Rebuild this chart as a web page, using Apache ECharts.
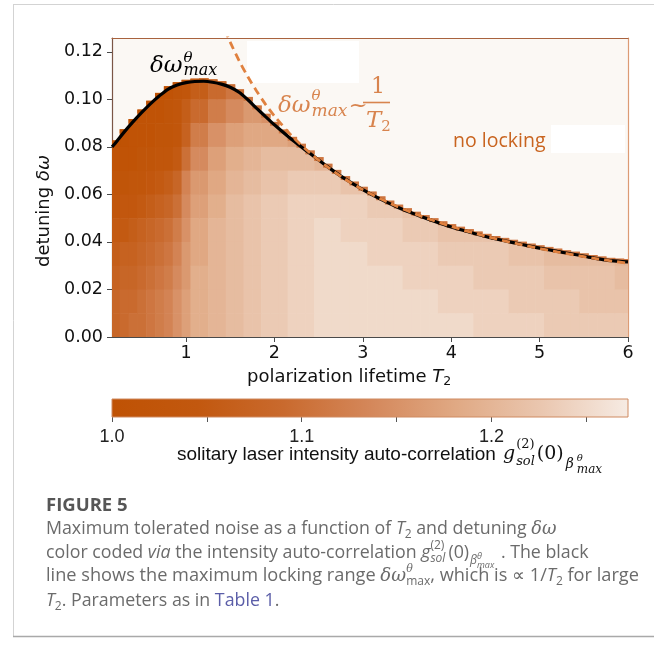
<!DOCTYPE html>
<html><head><meta charset="utf-8">
<script src="https://cdn.jsdelivr.net/npm/echarts@6/dist/echarts.min.js"></script>
<style>html,body{margin:0;padding:0;background:#fff}#c{width:654px;height:650px}</style>
</head><body><div id="c"></div>
<script>
// ---------- data ----------
const xTicks = [1, 2, 3, 4, 5, 6];
const yTicks = [0, 0.02, 0.04, 0.06, 0.08, 0.10, 0.12];
const cbTicks = [1.0, 1.05, 1.1, 1.15, 1.2, 1.25];
const cbLabels = [1.0, 1.1, 1.2];

// black curve: maximum locking range
const lineT2 = [0.163,0.2,0.3,0.4,0.5,0.6,0.7,0.8,0.9,1.0,1.1,1.2,1.3,1.4,1.5,1.6,1.7,1.8,1.9,2.0,2.2,2.4,2.6,2.8,3.0,3.2,3.4,3.6,3.8,4.0,4.2,4.4,4.6,4.8,5.0,5.2,5.4,5.6,5.8,6.0];
const lineDw = [0.0800,0.0815,0.0862,0.0905,0.0945,0.0982,0.1015,0.1043,0.1060,0.1070,0.1075,0.1076,0.1072,0.1064,0.1051,0.1030,0.0998,0.0962,0.0927,0.0893,0.0830,0.0773,0.0717,0.0665,0.0620,0.0580,0.0545,0.0515,0.0488,0.0463,0.0442,0.0422,0.0405,0.0389,0.0374,0.0360,0.0347,0.0333,0.0321,0.0316];

// orange dashed asymptote ~1/T2
const dashT2 = [1.44,1.5,1.6,1.7,1.8,1.9,2.0,2.2,2.4,2.6,2.8,3.0,3.3,3.6,4.0,4.4,4.8,5.2,5.6,6.0];
const dashDw = [0.1292,0.1241,0.1163,0.1095,0.1034,0.0979,0.0930,0.0845,0.0775,0.0716,0.0664,0.0620,0.0564,0.0517,0.0465,0.0423,0.0388,0.0358,0.0332,0.0310];

// heat map columns (centres) and the top of the locked region in each column
const colT2 = [0.2,0.3,0.4,0.5,0.6,0.7,0.8,0.9,1.0,1.1,1.2,1.3,1.4,1.5,1.6,1.7,1.8,1.9,2.0,2.1,2.2,2.3,2.4,2.5,2.6,2.7,2.8,2.9,3.0,3.1,3.2,3.3,3.4,3.5,3.6,3.7,3.8,3.9,4.0,4.1,4.2,4.3,4.4,4.5,4.6,4.7,4.8,4.9,5.0,5.1,5.2,5.3,5.4,5.5,5.6,5.7,5.8,5.9,6.0];
const colTop = [0.0827,0.0874,0.0917,0.0957,0.0994,0.1027,0.1055,0.1072,0.1082,0.1087,
                0.1088,0.1084,0.1076,0.1063,0.1042,0.1010,0.0974,0.0939,0.0905,0.0873,
                0.0842,0.0813,0.0785,0.0757,0.0729,0.0703,0.0677,0.0654,0.0632,0.0612,
                0.0592,0.0574,0.0557,0.0542,0.0527,0.0513,0.0500,0.0487,0.0475,0.0464,
                0.0454,0.0444,0.0434,0.0425,0.0417,0.0409,0.0401,0.0393,0.0386,0.0379,
                0.0372,0.0365,0.0359,0.0352,0.0345,0.0339,0.0333,0.0330,0.0328];

// g2 value grid: T2 bins (edges) x detuning rows (bottom of each 0.01 row), top row first
const gridEdgesT2 = [0.15,0.25,0.35,0.45,0.55,0.65,0.75,0.85,0.95,1.05,1.25,1.45,1.65,1.85,2.15,2.45,2.75,3.05,3.45,3.85,4.25,4.65,5.05,5.45,5.85,6.05];
const rowBottoms = [0.10,0.09,0.08,0.07,0.06,0.05,0.04,0.03,0.02,0.01,0.00];
const g2Rows = [
  [null,null,null,null,1.01,1.01,1.01,1.02,1.03,1.06,1.09,1.11,1.13],
  [null,null,1.01,1.01,1.01,1.01,1.02,1.03,1.06,1.09,1.12,1.14,1.16,1.15],
  [1.00,1.00,1.01,1.01,1.01,1.02,1.02,1.03,1.07,1.12,1.15,1.17,1.18,1.18,1.17],
  [1.01,1.01,1.01,1.02,1.02,1.03,1.03,1.05,1.10,1.14,1.17,1.19,1.20,1.21,1.21,1.20],
  [1.02,1.02,1.03,1.03,1.04,1.05,1.06,1.08,1.13,1.16,1.18,1.20,1.21,1.22,1.23,1.23,1.22,1.21],
  [1.03,1.04,1.04,1.05,1.06,1.07,1.08,1.10,1.14,1.17,1.19,1.21,1.22,1.23,1.24,1.24,1.24,1.23,1.22],
  [1.05,1.05,1.06,1.07,1.08,1.09,1.10,1.12,1.15,1.18,1.20,1.21,1.22,1.23,1.24,1.25,1.24,1.24,1.23,1.22,1.22,1.21],
  [1.06,1.07,1.07,1.08,1.09,1.10,1.11,1.13,1.16,1.18,1.20,1.21,1.22,1.23,1.24,1.25,1.25,1.24,1.24,1.23,1.23,1.22,1.21,1.21,1.20],
  [1.07,1.08,1.08,1.09,1.10,1.11,1.12,1.14,1.16,1.19,1.20,1.21,1.22,1.23,1.24,1.25,1.25,1.25,1.24,1.24,1.23,1.23,1.22,1.22,1.21],
  [1.08,1.09,1.09,1.10,1.11,1.12,1.13,1.15,1.17,1.19,1.20,1.21,1.22,1.23,1.24,1.25,1.25,1.25,1.25,1.24,1.24,1.23,1.23,1.22,1.22],
  [1.08,1.09,1.10,1.10,1.11,1.12,1.13,1.15,1.17,1.19,1.20,1.21,1.22,1.23,1.24,1.25,1.25,1.25,1.25,1.25,1.24,1.24,1.23,1.23,1.23]
];
// darker cells along the locking boundary, per T2 bin
const edgeG2 = [1.00,1.00,1.00,1.00,1.00,1.00,1.00,1.01,1.02,1.05,1.08,1.10,1.11,1.11,1.11,1.11,1.11,1.11,1.11,1.11,1.11,1.11,1.11,1.11,1.11];

const cbRange = [1.0, 1.272];
const palette = ['#bf5204','#c2580f','#c96a2e','#d4875a','#e0a984','#eac7b0','#f6ebe3'];

// ---------- build heat cells ----------
const HALF = 0.05, ROWH = 0.01, EDGEH = 0.0014;
const heat = [];
function binOf(c) { return gridEdgesT2.findIndex((e, j) => j < gridEdgesT2.length - 1 && c >= e && c < gridEdgesT2[j + 1]); }
colT2.forEach((c, i) => {
  const top = colTop[i], k = binOf(c);
  rowBottoms.forEach((y0, r) => {
    const v = g2Rows[r][k];
    if (v == null || y0 >= top) return;
    heat.push([c - HALF, c + HALF, y0, Math.min(y0 + ROWH, top), v]);
  });
});
colT2.forEach((c, i) => {
  const top = colTop[i];
  heat.push([c - HALF, c + HALF, top - EDGEH, top, edgeG2[binOf(c)]]);
});

// ---------- text helpers ----------
const mc = document.createElement('canvas').getContext('2d');
function tw(t, f) { mc.font = f; return mc.measureText(t).width; }
function midOff(f) {
  mc.font = f; mc.textBaseline = 'alphabetic';
  const a = mc.measureText('x').actualBoundingBoxAscent;
  mc.textBaseline = 'middle';
  const b = mc.measureText('x').actualBoundingBoxAscent;
  mc.textBaseline = 'alphabetic';
  return a - b;
}
function T(x, base, t, f, fill, z) {
  return {type: 'text', x: x, y: base - midOff(f), z: z || 10, silent: true,
    style: {text: t, font: f, fill: fill, align: 'left', verticalAlign: 'middle'}};
}
function run(els, x, base, parts, fill) {
  let cx = x;
  parts.forEach(p => {
    if (p.stack) {
      let w = 0;
      p.stack.forEach(s => {
        els.push(T(cx + (s.dx || 0), base + (s.dy || 0), s.t, s.f, s.fill || fill));
        w = Math.max(w, (s.dx || 0) + tw(s.t, s.f));
      });
      cx += w + (p.gap || 0);
    } else {
      els.push(T(cx, base + (p.dy || 0), p.t, p.f, p.fill || fill));
      cx += tw(p.t, p.f) + (p.gap || 0);
    }
  });
  return cx;
}

const SERIF = '"DejaVu Serif"';
const els = [];
// card border
els.push({type: 'line', z: 1, silent: true, shape: {x1: 13.5, y1: 4, x2: 13.5, y2: 637}, style: {stroke: '#d3d3d3', lineWidth: 1}});
els.push({type: 'line', z: 1, silent: true, shape: {x1: 13, y1: 4.5, x2: 654, y2: 4.5}, style: {stroke: '#d3d3d3', lineWidth: 1}});
els.push({type: 'line', z: 1, silent: true, shape: {x1: 13, y1: 636.5, x2: 654, y2: 636.5}, style: {stroke: '#a9a9a9', lineWidth: 1.5}});
// white patches in the no-locking area
els.push({type: 'rect', z: 1, silent: true, shape: {x: 247, y: 41, width: 112, height: 42}, style: {fill: '#ffffff'}});
els.push({type: 'rect', z: 1, silent: true, shape: {x: 551, y: 125, width: 74, height: 28}, style: {fill: '#ffffff'}});

// black curve label
run(els, 150, 72, [
  {t: 'δω', f: 'italic 23px ' + SERIF},
  {stack: [{t: 'θ', f: 'italic 15px ' + SERIF, dy: -10, dx: 1}, {t: 'max', f: 'italic 16px ' + SERIF, dy: 3, dx: 1}]}
], '#000');
// orange asymptote label
const OR = '#d8844e';
run(els, 278, 112, [
  {t: 'δω', f: 'italic 23px ' + SERIF},
  {stack: [{t: 'θ', f: 'italic 15px ' + SERIF, dy: -12, dx: 1}, {t: 'max', f: 'italic 17px ' + SERIF, dy: 4, dx: 1}], gap: 1},
  {t: '~', f: '23px ' + SERIF}
], OR);
els.push(T(371, 93, '1', '22px ' + SERIF, OR));
els.push({type: 'line', z: 10, silent: true, shape: {x1: 363, y1: 102.5, x2: 390, y2: 102.5}, style: {stroke: OR, lineWidth: 1.6}});
run(els, 366, 127, [{t: 'T', f: 'italic 23px ' + SERIF}, {t: '2', f: '15px ' + SERIF, dy: 4}], OR);
// no locking
els.push(T(453, 146.5, 'no locking', '19.5px "Open Sans"', '#c9641f'));

// axis titles
run(els, 247, 382, [
  {t: 'polarization lifetime ', f: '18px "DejaVu Sans"'},
  {t: 'T', f: 'italic 18px "DejaVu Sans"'},
  {t: '2', f: '12.5px "DejaVu Sans"', dy: 3}
], '#111');
els.push({type: 'text', x: 44.5, y: 211, rotation: Math.PI / 2, z: 10, silent: true,
  style: {text: '{a|detuning }{b|δω}', align: 'center', verticalAlign: 'middle', fill: '#111',
    rich: {a: {font: '18px "DejaVu Sans"', fill: '#111'}, b: {font: 'italic 18px "DejaVu Sans"', fill: '#111'}}}});

// colorbar title
run(els, 177, 460, [{t: 'solitary laser intensity auto-correlation', f: '19px "Liberation Sans"'}], '#111');
run(els, 503, 459, [
  {t: 'g', f: 'italic 19px ' + SERIF},
  {stack: [{t: '(2)', f: '13px ' + SERIF, dy: -11, dx: 1}, {t: 'sol', f: 'italic 13px ' + SERIF, dy: 6, dx: 1}], gap: 2},
  {t: '(0)', f: '19px ' + SERIF, gap: 2},
  {stack: [{t: 'β', f: 'italic 14px ' + SERIF, dy: 9}], gap: 3},
  {stack: [{t: 'θ', f: 'italic 10px ' + SERIF, dy: 2}, {t: 'max', f: 'italic 12px ' + SERIF, dy: 14}]}
], '#111');

// caption
const CF = '17.8px "Open Sans"', CI = 'italic 17.8px "Open Sans"', CS = '12px "Open Sans"', CSI = 'italic 12px "Open Sans"';
const CF3 = '18.2px "Open Sans"', CI3 = 'italic 18.2px "Open Sans"';
const CM = 'italic 17.8px ' + SERIF, CT = 'italic 9px "Open Sans"';
const CC = '#6b6b6b';
els.push(T(46, 510.5, 'FIGURE 5', 'bold 18.5px "Open Sans"', '#565656'));
run(els, 46, 534, [
  {t: 'Maximum tolerated noise as a function of ', f: CF},
  {t: 'T', f: CI}, {t: '2', f: CS, dy: 4},
  {t: ' and detuning ', f: CF},
  {t: 'δω', f: CM}
], CC);
run(els, 46, 558, [
  {t: 'color coded ', f: CF}, {t: 'via', f: CI},
  {t: ' the intensity auto-correlation ', f: CF},
  {t: 'g', f: CI},
  {stack: [{t: '(2)', f: CS, dy: -9}, {t: 'sol', f: CSI, dy: 4}], gap: 3},
  {t: '(0)', f: CF, gap: 1},
  {stack: [{t: 'β', f: CSI, dy: 6}], gap: 0},
  {stack: [{t: 'θ', f: CT, dy: 1}, {t: 'max', f: CT, dy: 10}], gap: 2},
  {t: ' . The black', f: CF}
], CC);
run(els, 46, 581, [
  {t: 'line shows the maximum locking range ', f: CF3},
  {t: 'δω', f: 'italic 18.2px ' + SERIF},
  {stack: [{t: 'θ', f: 'italic 11px ' + SERIF, dy: -9}, {t: 'max', f: CS, dy: 4}]},
  {t: ', which is ∝ 1/', f: CF3},
  {t: 'T', f: CI3}, {t: '2', f: CS, dy: 4},
  {t: ' for large', f: CF3}
], CC);
run(els, 46, 606, [
  {t: 'T', f: CI}, {t: '2', f: CS, dy: 4},
  {t: '. Parameters as in ', f: CF},
  {t: 'Table 1', f: CF, fill: '#5b5ea8'},
  {t: '.', f: CF}
], CC);

// ---------- chart ----------
const chart = echarts.init(document.getElementById('c'), null, {renderer: 'canvas'});
const tickLbl = {color: '#111', fontSize: 17.5, fontFamily: 'DejaVu Sans'};
chart.setOption({
  animation: false,
  backgroundColor: '#ffffff',
  grid: [
    {left: 112, top: 38, width: 516, height: 299, show: true, backgroundColor: '#fbf8f4', borderWidth: 0},
    {left: 112, top: 399, width: 516, height: 18}
  ],
  xAxis: [
    {gridIndex: 0, type: 'value', min: 0.163, max: 6, position: 'bottom',
      axisLine: {show: true, onZero: false, lineStyle: {color: '#4a4a4a', width: 1.2}},
      axisTick: {show: true, customValues: xTicks, length: 5, lineStyle: {color: '#4a4a4a'}},
      axisLabel: Object.assign({customValues: xTicks, margin: 7}, tickLbl),
      splitLine: {show: false}},
    {gridIndex: 0, type: 'value', min: 0.163, max: 6, position: 'top',
      axisLine: {show: true, onZero: false, lineStyle: {color: '#a8623e', width: 1.2}},
      axisTick: {show: false}, axisLabel: {show: false}, splitLine: {show: false}},
    {gridIndex: 1, type: 'value', min: cbRange[0], max: cbRange[1], position: 'bottom',
      axisLine: {show: false, onZero: false},
      axisTick: {show: true, customValues: cbTicks, length: 5, lineStyle: {color: '#555'}},
      axisLabel: {customValues: cbLabels, formatter: v => v.toFixed(1), color: '#222', fontSize: 18, fontFamily: 'Liberation Sans', margin: 11},
      splitLine: {show: false}}
  ],
  yAxis: [
    {gridIndex: 0, type: 'value', min: 0, max: 0.1258, position: 'left',
      axisLine: {show: true, onZero: false, lineStyle: {color: '#7b5646', width: 1.2}},
      axisTick: {show: true, customValues: yTicks, length: 5, lineStyle: {color: '#4a4a4a'}},
      axisLabel: Object.assign({customValues: yTicks, formatter: v => v.toFixed(2), margin: 9}, tickLbl),
      splitLine: {show: false}},
    {gridIndex: 0, type: 'value', min: 0, max: 0.1258, position: 'right',
      axisLine: {show: true, onZero: false, lineStyle: {color: '#dc9b74', width: 1.2}},
      axisTick: {show: false}, axisLabel: {show: false}, splitLine: {show: false}},
    {gridIndex: 1, type: 'value', min: 0, max: 1, show: false}
  ],
  visualMap: [{type: 'continuous', show: false, min: cbRange[0], max: cbRange[1], dimension: 4, seriesIndex: 0, inRange: {color: palette}}],
  series: [
    {type: 'custom', xAxisIndex: 0, yAxisIndex: 0, data: heat, encode: {x: [0, 1], y: [2, 3]}, clip: true, silent: true, z: 2,
      renderItem: (p, api) => {
        const a = api.coord([api.value(0), api.value(3)]);
        const b = api.coord([api.value(1), api.value(2)]);
        return {type: 'rect', shape: {x: a[0], y: a[1], width: b[0] - a[0] + 0.6, height: b[1] - a[1] + 0.6},
          style: {fill: api.visual('color')}};
      }},
    {type: 'custom', xAxisIndex: 2, yAxisIndex: 2, data: [cbRange], encode: {x: [0, 1]}, silent: true, z: 2,
      renderItem: (p, api) => {
        const a = api.coord([api.value(0), 1]);
        const b = api.coord([api.value(1), 0]);
        return {type: 'rect', shape: {x: a[0], y: a[1], width: b[0] - a[0], height: b[1] - a[1]},
          style: {fill: new echarts.graphic.LinearGradient(0, 0, 1, 0, palette.map((c, i) => ({offset: i / (palette.length - 1), color: c}))),
            stroke: '#cf8a60', lineWidth: 1}};
      }},
    {type: 'line', xAxisIndex: 0, yAxisIndex: 0, data: lineT2.map((t, i) => [t, lineDw[i]]), smooth: 0.3,
      symbol: 'none', silent: true, z: 3, lineStyle: {color: '#000', width: 3.2}},
    {type: 'line', xAxisIndex: 0, yAxisIndex: 0, data: dashT2.map((t, i) => [t, dashDw[i]]), smooth: 0.3,
      symbol: 'none', silent: true, z: 4, lineStyle: {color: '#e0813f', width: 2.8, type: [8, 5]}}
  ],
  graphic: {elements: els}
});
</script></body></html>
